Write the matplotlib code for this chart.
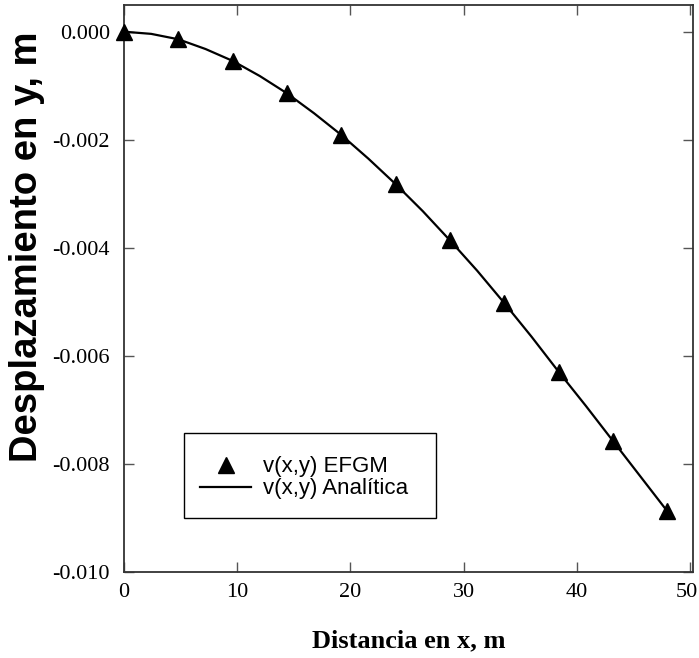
import matplotlib
matplotlib.use("Agg")
import matplotlib.pyplot as plt
import matplotlib.transforms as mtransforms
from matplotlib.lines import Line2D
from matplotlib.patches import Rectangle

# Data
x_efgm = [0.0, 4.8, 9.6, 14.4, 19.2, 24.0, 28.8, 33.6, 38.4, 43.2, 48.0]
v_efgm = [0.0, -0.00014, -0.00054, -0.00114, -0.00191, -0.00282,
          -0.00386, -0.00502, -0.00629, -0.00757, -0.00887]
x_anal = [0.0, 2.4, 4.8, 7.2, 9.6, 12.0, 14.4, 16.8, 19.2, 21.6, 24.0, 26.4,
          28.8, 31.2, 33.6, 36.0, 38.4, 40.8, 43.2, 45.6, 48.0]
v_anal = [0.0, -0.00004, -0.00014, -0.00032, -0.00054, -0.00082, -0.00114,
          -0.00151, -0.00191, -0.00235, -0.00282, -0.00332, -0.00386,
          -0.00442, -0.00502, -0.00564, -0.00629, -0.00692, -0.00757,
          -0.00822, -0.00887]
xticks = [0, 10, 20, 30, 40, 50]
yticks = [0.000, -0.002, -0.004, -0.006, -0.008, -0.010]
ytick_labels = ["0.000", "-0.002", "-0.004", "-0.006", "-0.008", "-0.010"]
legend_labels = ["v(x,y) EFGM", "v(x,y) Analítica"]

W, H = 699, 658
fig = plt.figure(figsize=(W / 100, H / 100), dpi=100)
ax = fig.add_axes([0.1774, 0.1302, 0.9914 - 0.1774, 0.9929 - 0.1302])

ax.plot(x_anal, v_anal, color="black", lw=1.6, zorder=2)
ax.plot(x_efgm, v_efgm, ls="none", marker="^", ms=12, color="black",
        zorder=3, clip_on=False)

ax.set_xlim(0, 50.27)
ax.set_ylim(-0.010, 0.0005)
ax.set_xticks(xticks)
ax.set_xticklabels([str(t) for t in xticks], family="Liberation Serif", fontsize=16)
ax.set_yticks(yticks)
ax.set_yticklabels(ytick_labels, family="Liberation Serif", fontsize=16)

ax.tick_params(direction="in", length=7, width=1.0, color="#555555",
               top=True, right=True)
ax.tick_params(axis="y", pad=10)
ax.tick_params(axis="x", pad=8)
for s in ax.spines.values():
    s.set_color("#333333")
    s.set_linewidth(1.3)

# nudge the last x tick label slightly left so it stays inside the canvas
last = ax.get_xticklabels()[-1]
last.set_transform(last.get_transform() +
                   mtransforms.ScaledTranslation(-3 / 100, 0, fig.dpi_scale_trans))

ax.set_xlabel("Distancia en x, m", family="Liberation Serif", fontweight="bold",
              fontsize=19, labelpad=19)
fig.text(27 / W, 1 - 247 / H, "Desplazamiento en y, m", family="Liberation Sans",
         fontweight="bold", fontsize=27.5, rotation=90, ha="center", va="center")

# legend box
fig.patches.append(Rectangle((184 / W, 1 - 518 / H), (436 - 184) / W, (518 - 433) / H,
                             transform=fig.transFigure, facecolor="white",
                             edgecolor="black", lw=1.0, zorder=4))
handles = [Line2D([], [], ls="none", marker="^", ms=12, color="black"),
           Line2D([], [], color="black", lw=1.6)]
leg = fig.legend(handles, legend_labels,
                 loc="upper left", bbox_to_anchor=(187 / W, 1 - 443 / H),
                 borderaxespad=0, frameon=False,
                 prop={"family": "Liberation Sans", "size": 16},
                 handlelength=2.3, handletextpad=0.5, labelspacing=0.05,
                 borderpad=0.6)
leg.set_zorder(5)

fig.savefig("out.png", dpi=100)
